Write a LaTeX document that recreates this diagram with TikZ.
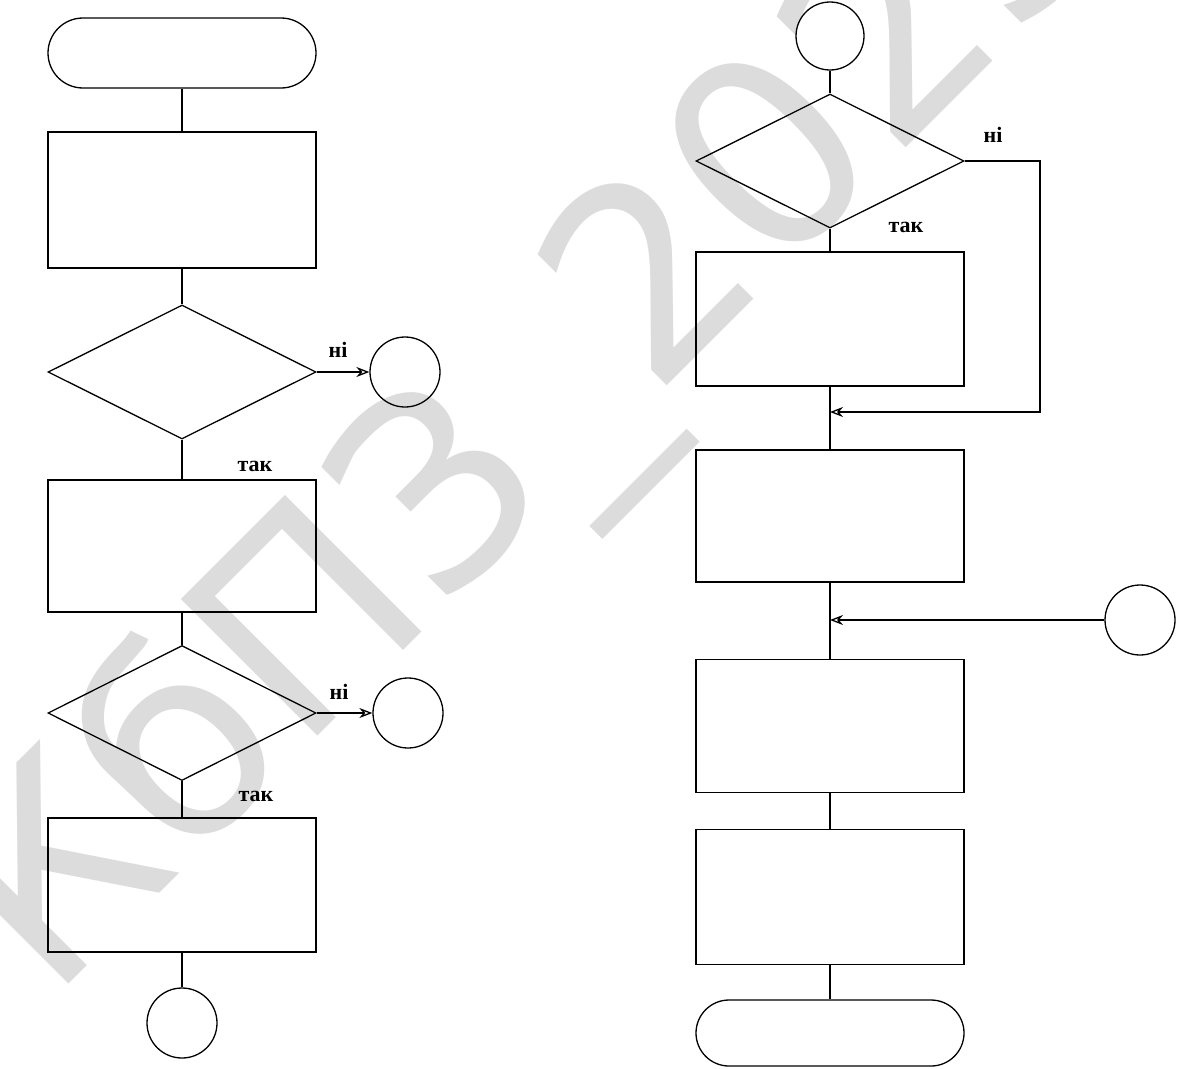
\documentclass[tikz,border=0pt]{standalone}
\usepackage{fontspec}
\setmainfont{Liberation Serif}
\newfontfamily\wmfont{DejaVu Sans}
\usetikzlibrary{shapes.geometric,shapes.misc,arrows.meta}
\definecolor{wmgray}{HTML}{DCDCDC}
\begin{document}
\begin{tikzpicture}[x=1pt,y=-1pt,
  box/.style={draw, line width=1.3pt, minimum width=268pt, minimum height=134pt, inner sep=0pt},
  dec/.style={draw, diamond, line width=1.3pt, minimum width=268pt, minimum height=134pt, inner sep=0pt},
  conn/.style={draw, circle, line width=1.3pt, minimum size=70pt, inner sep=0pt},
  term/.style={draw, rounded rectangle, line width=1.3pt, minimum width=268pt, minimum height=70pt, inner sep=0pt},
  lbl/.style={font=\fontsize{22}{24}\selectfont\bfseries, inner sep=0pt},
  flow/.style={line width=1.3pt},
  arr/.style={flow, -{Stealth[open,length=13pt,width=10pt]}},
  wm/.style={font=\wmfont\fontsize{265}{275}\selectfont, text=wmgray, rotate=45, inner sep=0pt}
]
\useasboundingbox (0,0) rectangle (1177,1068);
\node[wm] (wmark) at (540,412) {КбПЗ\_2023};

% left column
\node[term] (t1) at (182,53) {};
\node[box, minimum height=136pt] (l1) at (182,200) {};
\node[dec] (d1) at (182,372) {};
\node[conn] (c1) at (405,372) {};
\node[box, minimum height=132pt] (l2) at (182,546) {};
\node[dec, minimum height=135pt] (d2) at (182,713) {};
\node[conn] (c2) at (408,713) {};
\node[box] (l3) at (182,885) {};
\node[conn] (c3) at (182,1023) {};

\node[lbl] (n1) at (338,350) {ні};
\node[lbl] (y1) at (255,466) {так};
\node[lbl] (n2) at (339,692) {ні};
\node[lbl] (y2) at (256,796) {так};

\draw[flow] (t1.south) -- (l1.north);
\draw[flow] (l1.south) -- (d1.north);
\draw[flow] (d1.south) -- (l2.north);
\draw[arr] (d1.east) -- (c1.west);
\draw[flow] (l2.south) -- (d2.north);
\draw[arr] (d2.east) -- (c2.west);
\draw[flow] (d2.south) -- (l3.north);
\draw[flow] (l3.south) -- (c3.north);

% right column
\node[conn, minimum size=68pt] (c4) at (830,36) {};
\node[dec] (d3) at (830,161) {};
\node[box] (r1) at (830,319) {};
\node[box, minimum height=132pt] (r2) at (830,516) {};
\node[conn] (c5) at (1140,620) {};
\node[box, minimum height=133pt] (r3) at (830,726) {};
\node[box, minimum height=135pt] (r4) at (830,897) {};
\node[term, minimum height=66pt] (t2) at (830,1033) {};

\node[lbl] (n3) at (993,135) {ні};
\node[lbl] (y3) at (906,227) {так};

\coordinate (k1) at (1040,161);
\coordinate (m1) at (830,412);
\coordinate (m2) at (830,620);

\draw[flow] (c4.south) -- (d3.north);
\draw[flow] (d3.south) -- (r1.north);
\draw[arr] (d3.east) -- (k1) |- (m1);
\draw[flow] (r1.south) -- (r2.north);
\draw[flow] (r2.south) -- (r3.north);
\draw[arr] (c5.west) -- (m2);
\draw[flow] (r3.south) -- (r4.north);
\draw[flow] (r4.south) -- (t2.north);
\end{tikzpicture}
\end{document}
